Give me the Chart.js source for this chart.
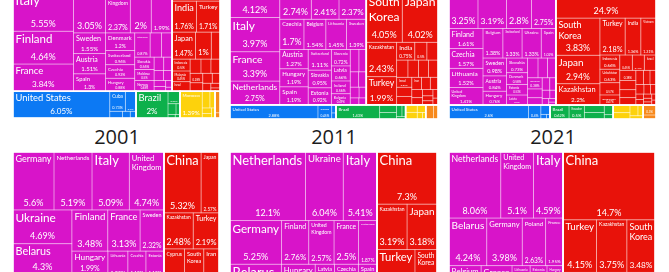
<!DOCTYPE html>
<html>
<head>
<meta charset="utf-8">
<script src="https://cdn.jsdelivr.net/npm/chart.js@4.4.1/dist/chart.umd.min.js"></script>
<style>
html, body { margin: 0; padding: 0; background: #fff; }
#wrap { position: relative; width: 669px; height: 272px; overflow: hidden; }
#wrap canvas { position: absolute; }
.year { position: absolute; top: 123px; width: 120px; line-height: 22px; text-align: center;
        font: 500 20px "Open Sans", sans-serif; color: #1c1c1c; }
</style>
</head>
<body>
<div id="wrap">
  <div class="year" style="left:57px">2001</div>
  <div class="year" style="left:274px">2011</div>
  <div class="year" style="left:493px">2021</div>
</div>
<script>
// each strip: direction ('r' row on top, 'c' column on left, 's' squarify the rest), then name, share pairs
const imp2001Europe = [
  ['r', 'Germany', 13.5, 'Belarus', 8.8, 'Ukraine', 7.76],
  ['c', 'Italy', 5.55, 'Finland', 4.64, 'France', 3.84],
  ['r', 'Netherlands', 3.05, 'United Kingdom', 2.37, 'Poland', 2, 'Belgium', 1.99],
  ['c', 'Sweden', 1.55, 'Austria', 1.51, 'Spain', 1.3],
  ['c', 'Denmark', 1.2, 'Switzerland', 0.96, 'Czechia', 0.92, 'Hungary', 0.88],
  ['r', 'Lithuania', 0.87, 'Estonia', 0.65, 'Latvia', 0.59],
  ['c', 'Slovakia', 0.56, 'Moldova', 0.5, 'Norway', 0.48],
  ['s', 'Slovenia', 0.3, 'Ireland', 0.26, 'Bulgaria', 0.22, 'Croatia', 0.2, 'Greece', 0.16, 'Portugal', 0.13, 'Romania', 0.1, 'Serbia', 0.06]
];
const imp2001Asia = [
  ['r', 'China', 5.5],
  ['r', 'Kazakhstan', 4.58],
  ['r', 'India', 1.76, 'Turkey', 1.71],
  ['r', 'Japan', 1.47, 'Uzbekistan', 1, 'Turkmenistan', 0.55],
  ['s', 'Indonesia', 0.5, 'Malaysia', 0.45, 'Israel', 0.4, 'Thailand', 0.36, 'Vietnam', 0.33, 'Kyrgyzstan', 0.3, 'Singapore', 0.28,
        'Iran', 0.25, 'Philippines', 0.22, 'Pakistan', 0.18, 'Tajikistan', 0.15, 'Azerbaijan', 0.1, 'Armenia', 0.07]
];
const imp2001NAm = [['c', 'United States', 6.05], ['r', 'Cuba', 0.73, 'Canada', 0.5], ['s', 'Mexico', 0.2, 'Costa Rica', 0.12, 'Honduras', 0.09]];
const imp2001SAm = [['c', 'Brazil', 2], ['s', 'Argentina', 0.35, 'Ecuador', 0.2, 'Chile', 0.1, 'Paraguay', 0.06, 'Colombia', 0.04]];
const imp2001Africa = [['c', 'Morocco', 1.39], ['s', 'South Africa', 0.3, 'Egypt', 0.2, 'Tunisia', 0.12, "Côte d'Ivoire", 0.1, 'Kenya', 0.08]];
const imp2001Oceania = [['s', 'Australia', 0.25, 'New Zealand', 0.06]];

const imp2011Europe = [
  ['r', 'Germany', 12.3, 'Ukraine', 5.8, 'Belarus', 4.3],
  ['c', 'Poland', 4.12, 'Italy', 3.97, 'France', 3.39, 'Netherlands', 2.75],
  ['r', 'Finland', 2.74, 'United Kingdom', 2.41, 'Denmark', 2.37],
  ['r', 'Czechia', 1.7, 'Belgium', 1.54, 'Lithuania', 1.45, 'Sweden', 1.39],
  ['c', 'Austria', 1.27, 'Hungary', 1.19, 'Spain', 1.19],
  ['c', 'Switzerland', 1.11, 'Slovakia', 0.95, 'Estonia', 0.92],
  ['c', 'Slovenia', 0.72, 'Latvia', 0.66, 'Ireland', 0.56, 'Bulgaria', 0.49],
  ['s', 'Greece', 0.45, 'Portugal', 0.38, 'Romania', 0.3, 'Serbia', 0.27, 'Croatia', 0.22, 'Luxembourg', 0.18, 'Moldova', 0.14, 'Malta', 0.12]
];
const imp2011Asia = [
  ['r', 'China', 13.8],
  ['r', 'South Korea', 4.05, 'Japan', 4.02],
  ['c', 'Kazakhstan', 2.43, 'Turkey', 1.99],
  ['r', 'India', 0.75, 'Chinese Taipei', 0.5, 'Vietnam', 0.46],
  ['s', 'Uzbekistan', 0.45, 'Malaysia', 0.42, 'Indonesia', 0.4, 'Thailand', 0.38, 'Israel', 0.35, 'Singapore', 0.32, 'Kyrgyzstan', 0.3,
        'Iran', 0.28, 'Philippines', 0.25, 'Azerbaijan', 0.22, 'Turkmenistan', 0.2, 'Pakistan', 0.18, 'Armenia', 0.15, 'Sri Lanka', 0.12,
        'Bangladesh', 0.1, 'Georgia', 0.1, 'Mongolia', 0.08]
];
const imp2011NAm = [['c', 'United States', 2.88], ['c', 'Canada', 0.45], ['s', 'Mexico', 0.08, 'Costa Rica', 0.06]];
const imp2011SAm = [['c', 'Brazil', 1.43], ['s', 'Ecuador', 0.3, 'Argentina', 0.25, 'Paraguay', 0.15, 'Chile', 0.1, 'Uruguay', 0.05]];
const imp2011Africa = [['s', 'Egypt', 0.2, 'South Africa', 0.18, 'Morocco', 0.15, "Côte d'Ivoire", 0.08, 'Ghana', 0.05]];
const imp2011Oceania = [['s', 'Australia', 0.25, 'New Zealand', 0.15]];

const imp2021Europe = [
  ['r', 'Germany', 9.5, 'Belarus', 4.4, 'Italy', 3.3],
  ['r', 'France', 3.25, 'Poland', 3.19, 'Netherlands', 2.8, 'Norway', 2.75],
  ['c', 'Finland', 1.61, 'Czechia', 1.57, 'Lithuania', 1.52, 'United Kingdom', 1.41],
  ['r', 'Belgium', 1.38, 'Switzerland', 1.33, 'Ukraine', 1.33, 'Spain', 1.02],
  ['c', 'Sweden', 0.98, 'Austria', 0.84, 'Hungary', 0.76],
  ['c', 'Slovakia', 0.73, 'Denmark', 0.58, 'Estonia', 0.53, 'Latvia', 0.5],
  ['s', 'Bulgaria', 0.48, 'Ireland', 0.44, 'Serbia', 0.39, 'Slovenia', 0.38, 'Greece', 0.3, 'Romania', 0.25, 'Portugal', 0.22,
        'Croatia', 0.18, 'Moldova', 0.15, 'Luxembourg', 0.12, 'Malta', 0.1, 'Iceland', 0.06, 'Montenegro', 0.05]
];
const imp2021Asia = [
  ['r', 'China', 24.9],
  ['c', 'South Korea', 3.83, 'Japan', 2.94, 'Kazakhstan', 2.2],
  ['r', 'Turkey', 2.18, 'India', 1.36, 'Vietnam', 1.31],
  ['c', 'Indonesia', 0.66, 'Uzbekistan', 0.63, 'Chinese Taipei', 0.57, 'Bangladesh', 0.47],
  ['s', 'Thailand', 0.45, 'Malaysia', 0.43, 'Israel', 0.42, 'Kyrgyzstan', 0.38, 'Sri Lanka', 0.35, 'Iran', 0.3, 'Singapore', 0.28,
        'Philippines', 0.25, 'Pakistan', 0.22, 'Azerbaijan', 0.2, 'Armenia', 0.18, 'Georgia', 0.15, 'Cambodia', 0.12, 'Mongolia', 0.1,
        'Tajikistan', 0.1, 'Turkmenistan', 0.08, 'Myanmar', 0.07, 'Hong Kong', 0.06, 'Jordan', 0.06, 'Lebanon', 0.05]
];
const imp2021NAm = [['c', 'United States', 2.6], ['c', 'Mexico', 0.4], ['s', 'Canada', 0.2, 'Costa Rica', 0.06, 'Guatemala', 0.04]];
const imp2021SAm = [['c', 'Brazil', 0.62], ['s', 'Ecuador', 0.5, 'Argentina', 0.35, 'Paraguay', 0.3, 'Chile', 0.2, 'Uruguay', 0.09]];
const imp2021Africa = [['s', 'Egypt', 0.3, 'South Africa', 0.25, 'Morocco', 0.2, "Côte d'Ivoire", 0.13, 'Tunisia', 0.1]];
const imp2021Oceania = [['s', 'Australia', 0.3, 'New Zealand', 0.12]];

const exp2001Europe = [
  ['r', 'Germany', 5.6, 'Netherlands', 5.19, 'Italy', 5.09, 'United Kingdom', 4.74],
  ['c', 'Ukraine', 4.69, 'Belarus', 4.3, 'Poland', 2.7, 'Switzerland', 2.2],
  ['r', 'Finland', 3.48, 'France', 3.13, 'Sweden', 2.32],
  ['c', 'Hungary', 1.99, 'Slovakia', 1.7, 'Spain', 1.31],
  ['r', 'Lithuania', 1.25, 'Czechia', 1.13, 'Estonia', 1.13],
  ['s', 'Latvia', 1, 'Denmark', 0.9, 'Austria', 0.8, 'Belgium', 0.7, 'Norway', 0.5, 'Greece', 0.38]
];
const exp2001Asia = [
  ['r', 'China', 5.32, 'Japan', 2.57],
  ['r', 'Kazakhstan', 2.48, 'Turkey', 2.19],
  ['r', 'Cyprus', 1.62, 'South Korea', 1.52, 'Iran', 1.2],
  ['s', 'India', 0.9, 'Uzbekistan', 0.7, 'Israel', 0.6, 'Vietnam', 0.5, 'Azerbaijan', 0.45, 'Singapore', 0.43]
];
const exp2001NAm = [['s', 'United States', 7.5, 'Cuba', 0.8, 'Canada', 0.5, 'Mexico', 0.4]];
const exp2001SAm = [['s', 'Brazil', 1.5, 'Argentina', 0.6, 'Chile', 0.3]];
const exp2001Africa = [['s', 'Egypt', 3, 'Algeria', 2, 'Morocco', 1.5, 'Nigeria', 1, 'South Africa', 0.8, 'Tunisia', 0.6, 'Libya', 0.5]];
const exp2001Oceania = [['s', 'Australia', 1.8, 'New Zealand', 0.49]];

const exp2011Europe = [
  ['r', 'Netherlands', 12.1, 'Ukraine', 6.04, 'Italy', 5.41],
  ['r', 'Germany', 5.25, 'Finland', 2.76, 'United Kingdom', 2.57, 'France', 2.5, 'Switzerland', 1.87],
  ['r', 'Belarus', 4.4, 'Hungary', 2.9, 'Latvia', 1.65, 'Czechia', 2.05, 'Spain', 1.6],
  ['s', 'Poland', 2.8, 'Lithuania', 1.6, 'Belgium', 1.4, 'Estonia', 1.2, 'Slovakia', 1.1, 'Greece', 1, 'Austria', 0.9,
        'Romania', 0.8, 'Denmark', 0.6, 'Bulgaria', 0.5, 'Norway', 0.47]
];
const exp2011Asia = [
  ['r', 'China', 7.3],
  ['r', 'Kazakhstan', 3.19, 'Japan', 3.18],
  ['r', 'Turkey', 3.1, 'South Korea', 1.8],
  ['s', 'India', 1.3, 'Israel', 1, 'Uzbekistan', 0.9, 'Azerbaijan', 0.8, 'Vietnam', 0.7, 'Singapore', 0.6, 'Iran', 0.55,
        'Kyrgyzstan', 0.5, 'Mongolia', 0.4, 'Hong Kong', 0.33, 'Thailand', 0.25]
];
const exp2011NAm = [['s', 'United States', 3.1, 'Canada', 0.4, 'Mexico', 0.3, 'Cuba', 0.2]];
const exp2011SAm = [['s', 'Brazil', 1, 'Argentina', 0.3, 'Chile', 0.2, 'Ecuador', 0.1]];
const exp2011Africa = [['s', 'Egypt', 1.5, 'Algeria', 1, 'Morocco', 0.6, 'Nigeria', 0.4, 'Tunisia', 0.3]];
const exp2011Oceania = [['s', 'Australia', 0.9, 'New Zealand', 0.33]];

const exp2021Europe = [
  ['r', 'Netherlands', 8.06, 'United Kingdom', 5.1, 'Italy', 4.59],
  ['r', 'Belarus', 4.24, 'Germany', 3.98, 'Poland', 2.63, 'France', 1.95],
  ['r', 'Belgium', 1.9, 'Greece', 1.83, 'Lithuania', 1.07, 'Estonia', 1, 'Hungary', 0.95],
  ['s', 'Ukraine', 1.2, 'Finland', 1.1, 'Latvia', 0.9, 'Switzerland', 0.9, 'Slovakia', 0.8, 'Spain', 0.75, 'Czechia', 0.7,
        'Austria', 0.65, 'Bulgaria', 0.6, 'Romania', 0.55, 'Denmark', 0.5, 'Sweden', 0.45, 'Norway', 0.4, 'Serbia', 0.2]
];
const exp2021Asia = [
  ['r', 'China', 14.7],
  ['r', 'Turkey', 4.15, 'Kazakhstan', 3.75, 'South Korea', 3.48],
  ['s', 'Japan', 2.5, 'India', 1.8, 'Uzbekistan', 1, 'Israel', 0.9, 'Azerbaijan', 0.9, 'Iran', 0.8, 'Vietnam', 0.7,
        'Kyrgyzstan', 0.7, 'Mongolia', 0.6, 'Singapore', 0.6, 'Armenia', 0.5, 'Thailand', 0.42, 'Malaysia', 0.4]
];
const exp2021NAm = [['s', 'United States', 3.6, 'Canada', 0.4, 'Mexico', 0.4]];
const exp2021SAm = [['s', 'Brazil', 1.1, 'Argentina', 0.3, 'Chile', 0.2]];
const exp2021Africa = [['s', 'Egypt', 2.5, 'Algeria', 1.8, 'Morocco', 1.2, 'Nigeria', 0.8, 'Tunisia', 0.7, 'South Africa', 0.5]];
const exp2021Oceania = [['s', 'Australia', 1.2, 'New Zealand', 0.4]];

const CONTINENTS = ['Europe', 'Asia', 'North America', 'South America', 'Africa', 'Oceania'];
const COLORS = ['#d814c9', '#e8120a', '#0c79f4', '#0db04b', '#fdd20c', '#f7891b'];
const FONT = 'Lato, "Open Sans", sans-serif';
const PHI = (1 + Math.sqrt(5)) / 2;

// where each treemap sits on the page (the picture is a crop, so some start above it)
const panels = [
  { left: 13,  top: -89, size: 207, groups: [imp2001Europe, imp2001Asia, imp2001NAm, imp2001SAm, imp2001Africa, imp2001Oceania] },
  { left: 230, top: -89, size: 208, groups: [imp2011Europe, imp2011Asia, imp2011NAm, imp2011SAm, imp2011Africa, imp2011Oceania] },
  { left: 449, top: -88, size: 207, groups: [imp2021Europe, imp2021Asia, imp2021NAm, imp2021SAm, imp2021Africa, imp2021Oceania] },
  { left: 13,  top: 152, size: 206, groups: [exp2001Europe, exp2001Asia, exp2001NAm, exp2001SAm, exp2001Africa, exp2001Oceania] },
  { left: 230, top: 152, size: 207, groups: [exp2011Europe, exp2011Asia, exp2011NAm, exp2011SAm, exp2011Africa, exp2011Oceania] },
  { left: 449, top: 152, size: 206, groups: [exp2021Europe, exp2021Asia, exp2021NAm, exp2021SAm, exp2021Africa, exp2021Oceania] }
];

function sum(arr) { return arr.reduce((a, b) => a + b.value, 0); }

function toStrips(list) {
  return list.map(s => {
    const items = [];
    for (let i = 1; i < s.length; i += 2) items.push({ name: s[i], value: s[i + 1] });
    return { dir: s[0], items: items, total: sum(items) };
  });
}

// same row picking as d3.treemapSquarify
function squarify(nodes, x0, y0, x1, y1, place) {
  let value = sum(nodes), i0 = 0, i1 = 0;
  const n = nodes.length;
  while (i0 < n) {
    const dx = x1 - x0, dy = y1 - y0;
    let sumValue = nodes[i1++].value;
    let minValue = sumValue, maxValue = sumValue;
    const alpha = Math.max(dy / dx, dx / dy) / (value * PHI);
    let beta = sumValue * sumValue * alpha;
    let minRatio = Math.max(maxValue / beta, beta / minValue);
    for (; i1 < n; ++i1) {
      const nv = nodes[i1].value;
      sumValue += nv;
      if (nv < minValue) minValue = nv;
      if (nv > maxValue) maxValue = nv;
      beta = sumValue * sumValue * alpha;
      const newRatio = Math.max(maxValue / beta, beta / minValue);
      if (newRatio > minRatio) { sumValue -= nv; break; }
      minRatio = newRatio;
    }
    const row = nodes.slice(i0, i1);
    if (dx < dy) {
      const t = dy * sumValue / value;
      let cx = x0;
      row.forEach(nd => { const cw = dx * nd.value / sumValue; place(nd, cx, y0, cw, t); cx += cw; });
      y0 += t;
    } else {
      const t = dx * sumValue / value;
      let cy = y0;
      row.forEach(nd => { const ch = dy * nd.value / sumValue; place(nd, x0, cy, t, ch); cy += ch; });
      x0 += t;
    }
    value -= sumValue;
    i0 = i1;
  }
}

function layoutStrips(strips, x, y, w, h, place) {
  let rest = strips.reduce((a, s) => a + s.total, 0);
  strips.forEach((s, i) => {
    const last = i === strips.length - 1;
    if (s.dir === 's') { squarify(s.items, x, y, x + w, y + h, place); return; }
    if (s.dir === 'r') {
      const t = last ? h : h * s.total / rest;
      let cx = x;
      s.items.forEach(it => { const cw = w * it.value / s.total; place(it, cx, y, cw, t); cx += cw; });
      y += t; h -= t;
    } else {
      const t = last ? w : w * s.total / rest;
      let cy = y;
      s.items.forEach(it => { const ch = h * it.value / s.total; place(it, x, cy, t, ch); cy += ch; });
      x += t; w -= t;
    }
    rest -= s.total;
  });
}

function buildLayout(groupLists) {
  const groups = groupLists.map((list, gi) => {
    const strips = toStrips(list);
    return { gi: gi, strips: strips, value: strips.reduce((a, s) => a + s.total, 0) };
  });
  const top = [
    { dir: 'r', items: groups.slice(0, 2), total: sum(groups.slice(0, 2)) },
    { dir: 'r', items: groups.slice(2), total: sum(groups.slice(2)) }
  ];
  const cells = [], boxes = [];
  layoutStrips(top, 0, 0, 1, 1, (g, x, y, w, h) => {
    boxes.push({ x: x, y: y, w: w, h: h });
    layoutStrips(g.strips, x, y, w, h, (c, cx, cy, cw, ch) => {
      cells.push({ name: c.name, value: c.value, color: COLORS[g.gi], x: cx, y: cy, w: cw, h: ch });
    });
  });
  return { cells: cells, boxes: boxes };
}

function drawLabel(ctx, r) {
  const pad = 2.5, avail = r.W - 2 * pad;
  if (avail < 3 || r.H < 5) return;
  ctx.save();
  ctx.beginPath();
  ctx.rect(r.X, r.Y, r.W, r.H);
  ctx.clip();
  ctx.fillStyle = '#fff';
  ctx.font = '10px ' + FONT;
  const fit = (lines, maxF) => {
    const mw = Math.max.apply(null, lines.map(l => ctx.measureText(l).width));
    return Math.min(maxF, avail / mw * 10);
  };
  let lines = [r.name];
  let nf = Math.min(fit(lines, 13), r.H * 0.35);
  const words = r.name.split(' ');
  if (words.length > 1) {
    const f2 = Math.min(fit(words, 13), r.H * 0.5 / words.length);
    if (f2 > nf) { nf = f2; lines = words; }
  }
  const vs = r.value + '%';
  let vf = Math.min(fit([vs], 9), r.H * 0.3);
  const need = pad + lines.length * nf * 1.2 + vf * 1.4 + 1;
  if (need > r.H) { const k = r.H / need; nf *= k; vf *= k; }
  if (nf >= 2.5) {
    ctx.font = nf.toFixed(2) + 'px ' + FONT;
    ctx.textAlign = 'left';
    ctx.textBaseline = 'top';
    lines.forEach((l, i) => ctx.fillText(l, r.X + pad, r.Y + pad + i * nf * 1.2));
  }
  if (vf >= 2.5) {
    ctx.font = vf.toFixed(2) + 'px ' + FONT;
    ctx.textAlign = 'center';
    ctx.textBaseline = 'middle';
    ctx.fillText(vs, r.X + r.W / 2, r.Y + r.H - Math.max(vf * 0.8, vf * 0.6 + 1));
  }
  ctx.restore();
}

function treemapPlugin(layout) {
  return {
    id: 'treemapCells',
    afterDatasetsDraw(chart) {
      const ctx = chart.ctx, xs = chart.scales.x, ys = chart.scales.y;
      const box = b => {
        const x0 = xs.getPixelForValue(b.x), x1 = xs.getPixelForValue(b.x + b.w);
        const y0 = ys.getPixelForValue(b.y), y1 = ys.getPixelForValue(b.y + b.h);
        return { X: x0, Y: y0, W: x1 - x0, H: y1 - y0 };
      };
      const rects = layout.cells.map(c => Object.assign({}, c, box(c)));
      ctx.save();
      rects.forEach(r => { ctx.fillStyle = r.color; ctx.fillRect(r.X, r.Y, r.W, r.H); });
      ctx.strokeStyle = 'rgba(255,255,255,0.35)';
      ctx.lineWidth = 0.8;
      rects.forEach(r => ctx.strokeRect(r.X, r.Y, r.W, r.H));
      ctx.strokeStyle = '#fff';
      ctx.lineWidth = 1.6;
      layout.boxes.forEach(b => { const p = box(b); ctx.strokeRect(p.X, p.Y, p.W, p.H); });
      ctx.restore();
      rects.forEach(r => drawLabel(ctx, r));
    }
  };
}

const wrap = document.getElementById('wrap');
panels.forEach(p => {
  const cv = document.createElement('canvas');
  cv.width = p.size;
  cv.height = p.size;
  cv.style.left = p.left + 'px';
  cv.style.top = p.top + 'px';
  wrap.appendChild(cv);
  const layout = buildLayout(p.groups);
  new Chart(cv, {
    type: 'scatter',
    data: { datasets: [{ data: [] }] },
    options: {
      responsive: false,
      animation: false,
      devicePixelRatio: 1,
      events: [],
      layout: { padding: 0 },
      scales: {
        x: { type: 'linear', min: 0, max: 1, display: false },
        y: { type: 'linear', min: 0, max: 1, reverse: true, display: false }
      },
      plugins: { legend: { display: false }, tooltip: { enabled: false } }
    },
    plugins: [treemapPlugin(layout)]
  });
});
</script>
</body>
</html>
